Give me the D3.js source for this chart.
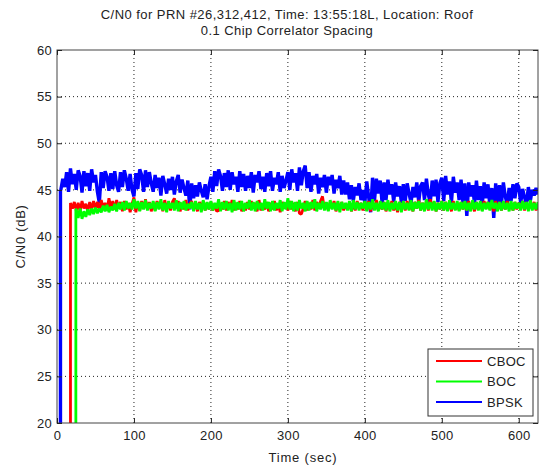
<!DOCTYPE html>
<html><head><meta charset="utf-8">
<script src="https://cdn.jsdelivr.net/npm/d3@7"></script>
<style>body{margin:0;background:#fff}svg{display:block;font-family:"Liberation Sans",Arial,sans-serif}</style>
</head><body><svg id="c" width="540" height="468"></svg>
<script>
const titleLines = ["C/N0 for PRN #26,312,412, Time: 13:55:18L, Location: Roof", "0.1 Chip Correlator Spacing"];
const xLabel = "Time (sec)";
const yLabel = "C/N0 (dB)";
const xTicks = [0,100,200,300,400,500,600];
const yTicks = [20,25,30,35,40,45,50,55,60];
const xDomain = [0,625];
const yDomain = [20,60];
const seriesNames = ["CBOC","BOC","BPSK"];
const seriesColors = ["#ff0000","#00ff00","#0000ff"];
const onsetTimes = [17.5, 24.5, 4.5];
const sampleStep = 2.5; // seconds between samples, sample i at t = i*step

const bpskValues = [
null,null,45.0,46.2,45.3,46.9,44.8,47.3,45.6,46.7,
45.0,47.1,46.5,44.7,47.0,45.4,46.8,44.9,47.2,45.8,
46.6,44.8,43.6,46.9,45.2,47.0,46.4,44.9,46.8,45.1,
47.0,45.5,44.8,46.9,45.3,47.1,46.2,44.9,46.7,45.0,
44.3,46.8,45.1,47.2,46.6,44.8,47.1,45.3,46.9,45.7,
44.8,46.6,45.2,46.3,44.4,46.5,45.6,44.6,46.2,45.0,
46.4,44.5,45.9,46.6,44.7,46.1,45.2,44.4,46.0,42.9,
45.7,44.1,45.5,44.3,45.8,44.9,44.2,45.6,44.0,45.4,
46.4,44.8,47.0,45.4,47.2,46.5,44.9,46.8,45.3,47.1,
45.0,46.9,45.6,46.4,44.8,47.0,45.3,46.7,44.9,46.5,
45.2,46.9,44.7,46.6,45.8,47.0,45.1,46.4,44.8,46.8,
45.4,47.0,44.9,46.3,45.6,46.9,44.8,46.5,45.2,46.0,
46.9,45.0,47.2,45.8,46.8,44.9,47.4,45.5,47.0,47.6,
45.2,46.9,44.8,46.5,45.6,46.7,44.6,46.3,45.3,46.6,
44.7,46.4,45.5,46.6,44.6,46.1,45.2,46.5,44.5,46.0,
44.5,45.8,44.0,45.5,43.8,45.3,44.4,45.7,43.9,45.0,
43.6,45.9,44.2,42.6,46.3,43.8,46.2,44.6,46.0,43.5,
45.8,43.9,46.1,44.5,45.6,43.7,45.8,44.3,45.4,43.6,
45.6,43.8,45.7,44.6,43.6,45.3,44.2,45.8,43.7,45.4,
45.8,43.9,46.2,44.5,43.6,46.0,44.3,46.1,43.7,45.7,
46.3,43.8,46.5,44.5,45.9,43.6,46.4,44.7,45.8,43.9,
46.1,43.6,45.7,42.2,45.8,44.3,45.5,43.5,46.0,43.9,
45.4,43.3,45.8,44.1,45.6,43.2,45.2,42.0,45.7,43.6,
45.5,43.5,45.8,44.3,43.4,45.2,43.8,45.6,44.1,45.7,
45.3,43.6,45.1,44.2,43.5,45.3,43.8,45.0,44.4,45.2,
44.5];

const cbocValues = [
null,null,null,null,null,null,null,43.6,43.0,43.7,
42.8,43.6,42.7,43.8,43.0,43.5,42.7,43.7,42.9,43.8,
43.0,43.7,42.8,43.9,43.1,43.6,42.8,44.1,43.1,43.8,
42.9,43.9,43.0,43.7,42.7,43.8,42.9,43.6,42.6,43.5,
44.2,42.6,43.7,42.8,43.8,43.0,44.0,42.9,43.7,42.7,
43.6,42.8,43.8,43.0,43.7,42.7,43.9,42.9,43.6,42.8,
43.7,44.1,43.0,43.8,42.7,43.6,42.9,43.9,42.8,43.5,
43.8,42.9,43.6,42.7,43.7,43.0,43.8,42.8,43.6,42.9,
43.7,42.8,43.5,42.7,42.8,43.6,42.9,43.8,42.8,43.7,
43.0,43.9,42.8,43.6,42.9,43.8,42.7,43.5,42.8,43.7,
42.9,43.8,43.0,43.6,42.7,43.9,42.8,43.5,42.9,43.7,
42.7,43.6,42.9,43.8,42.8,43.5,42.6,43.7,43.0,43.6,
42.8,43.8,42.9,43.6,42.7,43.7,42.5,42.4,43.0,43.8,
42.8,43.6,42.9,43.9,42.8,43.7,43.0,43.8,44.3,42.9,
43.6,42.8,43.7,43.0,43.8,42.7,43.6,42.9,43.7,42.8,
43.5,42.9,43.7,42.7,43.6,42.8,43.8,43.0,43.6,42.8,
43.7,42.9,43.8,42.7,43.6,43.0,43.9,42.8,43.5,42.9,
43.7,42.7,43.6,42.9,43.8,42.8,43.5,42.6,43.7,43.0,
43.6,42.8,43.8,42.9,43.5,42.7,43.7,43.0,43.9,42.8,
43.6,42.9,43.8,42.8,44.0,43.0,43.7,42.7,43.6,42.9,
43.8,42.8,43.7,43.0,43.6,42.7,43.8,42.9,43.5,42.8,
43.7,42.9,43.6,42.8,43.8,43.0,43.5,42.7,43.7,42.9,
43.6,42.8,43.8,43.0,43.7,42.9,43.5,42.7,43.8,43.0,
43.7,42.8,43.6,42.9,43.8,43.0,43.5,42.8,43.7,42.9,
43.6,43.0,43.8,42.8,43.7,42.9,43.5,43.0,43.7,42.8,
43.4];

const bocValues = [
null,null,null,null,null,null,null,null,null,null,
42.9,42.0,43.0,41.9,42.7,42.1,42.9,42.3,43.0,42.4,
43.1,42.5,43.0,42.6,43.3,42.7,43.4,42.6,43.2,42.8,
43.5,42.7,43.6,42.9,43.7,42.8,43.8,43.0,43.6,42.9,
44.0,43.0,43.8,42.7,43.7,42.9,43.9,42.8,43.6,43.0,
43.8,42.7,43.7,42.9,44.0,42.8,43.6,42.6,43.8,43.0,
43.6,42.8,43.9,42.7,43.7,42.9,43.8,42.8,43.5,43.0,
43.7,42.7,43.8,42.9,43.6,42.6,43.9,42.8,43.7,42.9,
43.8,42.8,43.6,43.0,44.0,42.7,43.7,42.9,43.8,42.8,
43.6,42.6,43.9,42.8,43.7,42.9,43.8,42.7,43.6,43.0,
43.9,42.8,43.7,42.7,43.8,42.9,43.6,42.8,44.0,43.0,
43.7,42.7,43.8,42.8,43.6,43.0,43.9,42.7,43.7,42.9,
44.1,42.9,43.8,42.7,43.7,42.8,43.9,43.0,43.6,42.7,
43.8,42.8,43.7,43.0,44.0,42.7,43.6,42.9,43.8,42.8,
43.7,42.7,43.9,42.9,43.6,42.8,43.8,42.6,43.7,43.0,
43.6,42.8,43.8,42.7,43.9,42.9,43.7,42.8,43.6,43.0,
43.8,42.7,43.7,42.9,44.0,42.8,43.6,42.7,43.8,42.9,
43.7,42.8,43.9,42.7,43.6,42.9,43.8,42.8,43.7,42.6,
43.8,42.9,43.6,42.8,43.9,42.7,43.7,43.0,43.8,42.8,
43.6,42.7,44.0,42.9,43.7,42.8,43.8,42.7,43.6,42.9,
43.8,42.8,43.7,42.7,43.9,42.9,43.6,42.8,43.8,42.7,
43.7,42.9,43.8,42.8,43.6,42.7,43.9,42.9,43.7,42.8,
43.8,42.7,43.6,42.9,43.7,42.8,43.9,43.0,43.6,42.7,
43.7,42.8,43.8,42.9,43.6,42.7,43.8,42.8,43.7,43.0,
43.6,42.8,43.8,42.9,43.7,42.7,43.9,42.8,43.6,42.9,
43.7];

const seriesWidths = [2.8, 2.8, 3.4];

const svg = d3.select("#c");
const L = 57, R = 538, T = 50, B = 423;
const x = d3.scaleLinear(xDomain, [L, R]);
const y = d3.scaleLinear(yDomain, [B, T]);

// grid
const g = svg.append("g");
g.selectAll(".gx").data(xTicks.filter(t => t > xDomain[0] && t < xDomain[1])).join("line")
  .attr("x1", d => x(d)).attr("x2", d => x(d)).attr("y1", T).attr("y2", B)
  .attr("stroke", "#222").attr("stroke-width", 1).attr("stroke-dasharray", "1,3");
g.selectAll(".gy").data(yTicks.filter(t => t > yDomain[0] && t < yDomain[1])).join("line")
  .attr("x1", L).attr("x2", R).attr("y1", d => y(d)).attr("y2", d => y(d))
  .attr("stroke", "#222").attr("stroke-width", 1).attr("stroke-dasharray", "1,3");

svg.append("defs").append("clipPath").attr("id", "clip")
  .append("rect").attr("x", L).attr("y", T).attr("width", R - L).attr("height", B - T);

const allValues = [cbocValues, bocValues, bpskValues];
function seriesPoints(k) {
  const vals = allValues[k];
  const pts = [];
  const first = vals.findIndex(v => v !== null);
  pts.push([onsetTimes[k], 0]);
  pts.push([onsetTimes[k], vals[first]]);
  vals.forEach((v, i) => { if (v !== null) pts.push([i * sampleStep, v]); });
  return pts;
}
const line = d3.line().x(d => x(d[0])).y(d => y(d[1]));
const plot = svg.append("g").attr("clip-path", "url(#clip)");
[2, 0, 1].forEach(k => {
  plot.append("path").datum(seriesPoints(k))
    .attr("fill", "none").attr("stroke", seriesColors[k])
    .attr("stroke-width", seriesWidths[k]).attr("stroke-linejoin", "bevel")
    .attr("d", line);
});

// axes box
svg.append("rect").attr("x", L).attr("y", T).attr("width", R - L).attr("height", B - T)
  .attr("fill", "none").attr("stroke", "#444").attr("stroke-width", 1);

const fs = "13px";
const ax = svg.append("g").attr("transform", `translate(0,${B})`)
  .call(d3.axisBottom(x).tickValues(xTicks).tickSizeInner(-5).tickSizeOuter(0).tickPadding(8));
const at = svg.append("g").attr("transform", `translate(0,${T})`)
  .call(d3.axisTop(x).tickValues(xTicks).tickSizeInner(-5).tickSizeOuter(0).tickFormat(""));
const ay = svg.append("g").attr("transform", `translate(${L},0)`)
  .call(d3.axisLeft(y).tickValues(yTicks).tickSizeInner(-5).tickSizeOuter(0).tickPadding(5));
const ar = svg.append("g").attr("transform", `translate(${R},0)`)
  .call(d3.axisRight(y).tickValues(yTicks).tickSizeInner(-5).tickSizeOuter(0).tickFormat(""));
[ax, at, ay, ar].forEach(a => {
  a.select(".domain").remove();
  a.selectAll(".tick line").attr("stroke", "#222");
  a.selectAll("text").attr("font-size", fs).attr("fill", "#222").attr("letter-spacing", "0.3px")
    .attr("font-family", '"Liberation Sans",Arial,sans-serif');
});

// titles
svg.selectAll(".title").data(titleLines).join("text")
  .attr("x", 287).attr("y", (d, i) => 19 + i * 16)
  .attr("text-anchor", "middle").attr("font-size", "13px").attr("letter-spacing", "0.45px")
  .attr("fill", "#222").text(d => d);
svg.append("text").attr("x", 303).attr("y", 462).attr("text-anchor", "middle")
  .attr("font-size", "13px").attr("letter-spacing", "0.8px").attr("fill", "#222").text(xLabel);
svg.append("text").attr("transform", `translate(25,${(T + B) / 2}) rotate(-90)`)
  .attr("text-anchor", "middle").attr("font-size", "13px").attr("letter-spacing", "0.7px")
  .attr("fill", "#222").text(yLabel);

// legend
const lg = svg.append("g");
lg.append("rect").attr("x", 428).attr("y", 349).attr("width", 105).attr("height", 67)
  .attr("fill", "#fff").attr("stroke", "#333").attr("stroke-width", 1);
seriesNames.forEach((n, i) => {
  const yy = 361 + i * 20.5;
  lg.append("line").attr("x1", 436).attr("x2", 482).attr("y1", yy).attr("y2", yy)
    .attr("stroke", seriesColors[i]).attr("stroke-width", 2);
  lg.append("text").attr("x", 487).attr("y", yy).attr("dy", "0.36em")
    .attr("font-size", "13px").attr("letter-spacing", "0.3px").attr("fill", "#222").text(n);
});
</script></body></html>
